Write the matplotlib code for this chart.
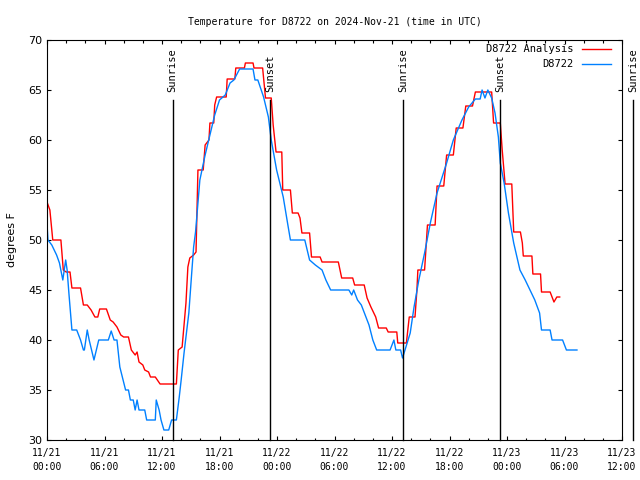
import matplotlib.pyplot as plt

# hours since 2024-11-21 00:00 UTC
analysis_h = [0, 0.3, 0.6, 1.45, 1.7, 2.0, 2.4, 2.6, 3.5, 3.8, 4.2, 4.6, 5.0, 5.3, 5.5, 6.2,
              6.6, 6.9, 7.3, 7.7, 8.0, 8.5, 8.8, 9.2, 9.4, 9.6, 10.0, 10.2, 10.6, 10.8, 11.3,
              11.8, 13.5, 13.7, 14.1, 14.3, 14.5, 14.7, 14.9, 15.3, 15.55, 15.75, 16.3, 16.5,
              16.9, 17.0, 17.4, 17.5, 17.7, 18.7, 18.8, 19.6, 19.7, 20.6, 20.7, 21.5, 21.6,
              22.5, 22.8, 23.4, 23.6, 23.9, 24.5, 24.6, 25.4, 25.6, 26.2, 26.4, 26.6, 27.4,
              27.6, 28.5, 28.7, 30.4, 30.75, 31.9, 32.1, 33.1, 33.4, 33.8, 34.3, 34.6, 35.4,
              35.6, 36.5, 36.6, 37.5, 37.8, 38.4, 38.6, 38.7, 39.4, 39.7, 40.5, 40.7, 41.4,
              41.7, 42.4, 42.7, 43.4, 43.7, 44.4, 44.7, 46.4, 46.6, 47.3, 47.5, 47.8, 48.5,
              48.7, 49.4, 49.6, 49.7, 50.6, 50.7, 51.5, 51.6, 52.5, 52.9, 53.2, 53.5]
analysis_t = [53.8, 53.0, 50.0, 50.0, 47.0, 46.8, 46.8, 45.2, 45.2, 43.5, 43.5, 43.0, 42.3, 42.3, 43.1, 43.1,
              42.0, 41.8, 41.3, 40.5, 40.3, 40.3, 39.0, 38.5, 38.8, 37.8, 37.5, 37.0, 36.8, 36.3, 36.3,
              35.6, 35.6, 39.0, 39.3, 41.5, 43.7, 47.3, 48.2, 48.5, 48.8, 57.0, 57.0, 59.5,
              60.0, 61.7, 61.7, 63.5, 64.3, 64.3, 66.1, 66.1, 67.2, 67.2, 67.7, 67.7, 67.2,
              67.2, 64.2, 64.2, 61.5, 58.8, 58.8, 55.0, 55.0, 52.7, 52.7, 52.2, 50.7, 50.7,
              48.3, 48.3, 47.8, 47.8, 46.2, 46.2, 45.5, 45.5, 44.2, 43.3, 42.3, 41.2, 41.2,
              40.8, 40.8, 39.7, 39.7, 42.3, 42.3, 45.0, 47.0, 47.0, 51.5, 51.5, 55.4, 55.4,
              58.5, 58.5, 61.2, 61.2, 63.4, 63.4, 64.8, 64.8, 61.7, 61.7, 59.0, 55.6, 55.6,
              50.8, 50.8, 49.7, 48.4, 48.4, 46.6, 46.6, 44.8, 44.8, 43.8, 44.3, 44.3]

obs_h = [0, 0.1, 0.5, 1.0, 1.3, 1.65, 1.8, 1.95, 2.1, 2.3, 2.6, 3.1, 3.5, 3.8, 3.9, 4.2, 4.4,
         4.9, 5.4, 6.4, 6.7, 7.0, 7.3, 7.6, 8.2, 8.5, 8.7, 9.0, 9.2, 9.4, 9.6, 10.2, 10.4,
         11.3, 11.4, 11.7, 11.9, 12.2, 12.7, 13.0, 13.5, 13.8, 14.0, 14.3, 14.8, 15.1, 15.3,
         15.5, 15.95, 16.5, 17.0, 17.5, 18.0, 18.6, 19.1, 19.5, 20.1, 21.5, 21.7, 22.0, 22.6,
         23.1, 23.4, 23.96, 24.65, 25.1, 25.4, 26.9, 27.4, 28.0, 28.7, 29.1, 29.6, 31.5, 31.8,
         32.0, 32.4, 32.8, 33.2, 33.6, 34.0, 34.4, 35.8, 36.2, 36.4, 36.9, 37.1, 37.9, 38.3,
         38.8, 39.4, 40.0, 40.7, 41.7, 42.4, 43.3, 44.0, 44.7, 45.2, 45.4, 45.7, 46.0, 46.4,
         46.75, 47.1, 47.3, 47.7, 48.15, 48.7, 49.35, 49.9, 50.4, 50.9, 51.4, 51.6, 52.5,
         52.7, 53.8, 54.2, 55.3]
obs_t = [51.6, 50.0, 49.5, 48.5, 47.7, 46.0, 47.0, 48.0, 47.0, 44.5, 41.0, 41.0, 40.0, 39.0, 39.0, 41.0, 40.0,
         38.0, 40.0, 40.0, 40.9, 40.0, 40.0, 37.3, 35.0, 35.0, 34.0, 34.0, 33.0, 34.0, 33.0, 33.0, 32.0,
         32.0, 34.0, 33.0, 32.0, 31.0, 31.0, 32.0, 32.0, 34.3, 36.0, 38.7, 42.7, 46.7, 49.3,
         50.8, 56.0, 58.5, 60.5, 62.5, 64.0, 64.5, 65.7, 66.0, 67.1, 67.1, 66.0, 66.0, 64.3,
         62.3, 60.0, 57.0, 54.3, 51.7, 50.0, 50.0, 48.0, 47.5, 47.0, 46.0, 45.0, 45.0, 44.5,
         45.0, 44.0, 43.5, 42.5, 41.5, 40.0, 39.0, 39.0, 40.0, 39.0, 39.0, 38.2, 40.7, 43.3,
         46.0, 48.7, 51.7, 54.7, 57.7, 60.0, 62.0, 63.3, 64.1, 64.1, 65.0, 64.2, 65.0, 64.2,
         62.7, 60.3, 57.7, 55.7, 52.7, 49.7, 47.0, 46.0, 45.0, 44.0, 42.7, 41.0, 41.0,
         40.0, 40.0, 39.0, 39.0]

sun_h = [13.12, 23.26, 37.15, 47.28, 61.18]
sun_lbl = ["Sunrise", "Sunset", "Sunrise", "Sunset", "Sunrise"]

tick_h = [0, 6, 12, 18, 24, 30, 36, 42, 48, 54, 60]
tick_lbl = ["11/21\n00:00", "11/21\n06:00", "11/21\n12:00", "11/21\n18:00",
            "11/22\n00:00", "11/22\n06:00", "11/22\n12:00", "11/22\n18:00",
            "11/23\n00:00", "11/23\n06:00", "11/23\n12:00"]

mono = "DejaVu Sans Mono"

fig = plt.figure(figsize=(6.4, 4.8), dpi=100)
ax = fig.add_axes([47 / 640, 40 / 480, 575 / 640, 400 / 480])

ax.plot(analysis_h, analysis_t, color="#ff0000", lw=1.0, label="D8722 Analysis")
ax.plot(obs_h, obs_t, color="#0080ff", lw=1.0, label="D8722")

for h, s in zip(sun_h, sun_lbl):
    ax.plot([h, h], [30, 64], color="black", lw=1.0, clip_on=False)
    ax.text(h, 64.8, s, rotation=90, ha="center", va="bottom",
            family=mono, fontsize=7.5, clip_on=False)

ax.set_xlim(0, 60)
ax.set_ylim(30, 70)
ax.set_xticks(tick_h)
ax.set_xticklabels(tick_lbl, family=mono, fontsize=7, linespacing=1.4)
ax.set_xticks(range(0, 61, 2), minor=True)
ax.set_yticks(range(30, 71, 5))
ax.tick_params(axis="y", labelsize=8)
ax.tick_params(which="major", direction="in", length=3, top=True, right=True, width=0.8)
ax.tick_params(which="minor", direction="in", length=1.8, top=True, right=False, width=0.8)
ax.tick_params(axis="y", which="minor", left=False, right=False)
ax.tick_params(axis="x", pad=6)
ax.set_ylabel("degrees F", fontsize=8, labelpad=8)

ax.set_title("Temperature for D8722 on 2024-Nov-21 (time in UTC)",
             family=mono, fontsize=7, pad=11)

ax.legend(loc="upper right", bbox_to_anchor=(0.992, 1.005), frameon=False,
          markerfirst=False, prop={"family": mono, "size": 7.5},
          handlelength=2.8, labelspacing=0.5, borderaxespad=0.2, handletextpad=0.8)

fig.savefig("out.png", dpi=100)
